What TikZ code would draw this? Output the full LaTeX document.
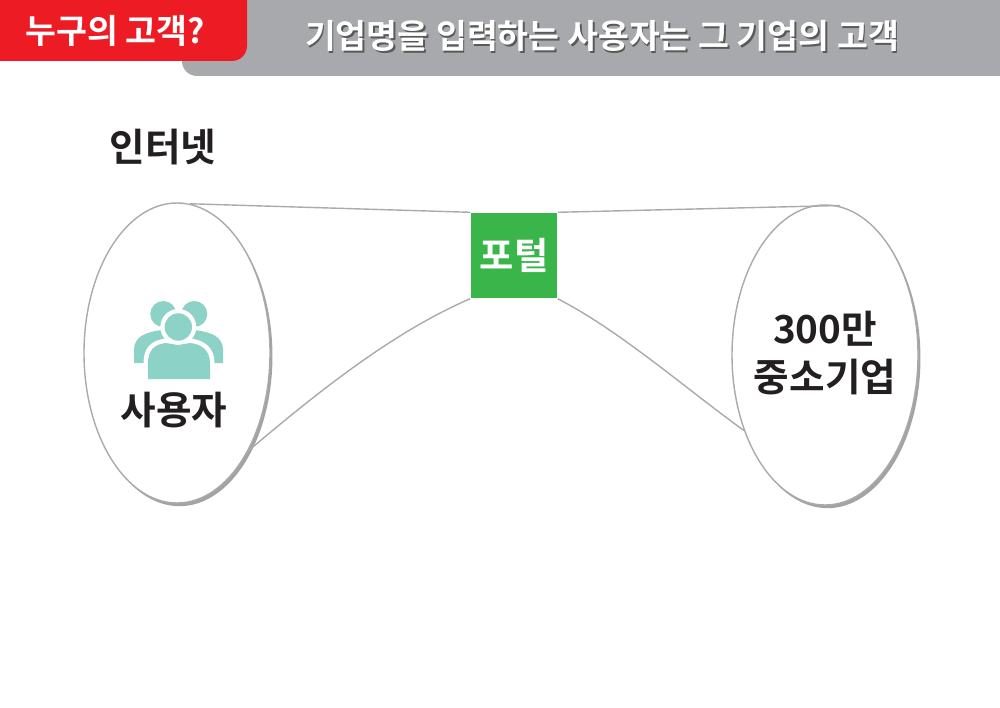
\documentclass[tikz,border=0pt]{standalone}
\usepackage{fontspec}
\usepackage{xcolor}
\usetikzlibrary{shadows,shapes.geometric}
\setmainfont{Noto Sans CJK KR}[BoldFont={Noto Sans CJK KR Bold}]

\definecolor{headred}{RGB}{237,28,36}
\definecolor{headgray}{RGB}{167,169,172}
\definecolor{linegray}{RGB}{170,170,170}
\definecolor{portalgreen}{RGB}{57,181,74}
\definecolor{iconteal}{RGB}{140,210,198}
\definecolor{inkblack}{RGB}{35,31,32}

\tikzset{
  bigtext/.style={font=\bfseries\fontsize{11}{13.4}\selectfont, text=inkblack, align=center, inner sep=0pt},
  headtext/.style={font=\bfseries\fontsize{9.55}{11}\selectfont, text=white, inner sep=0pt},
  cloud/.style={draw=linegray, line width=0.4pt, fill=white, ellipse, minimum width=1.86cm, minimum height=3cm, inner sep=0pt,
    drop shadow={shadow xshift=0.7pt, shadow yshift=-0.9pt, fill=black!45, opacity=0.8}},
  link/.style={draw=linegray, line width=0.4pt}
}

\begin{document}
\begin{tikzpicture}

\useasboundingbox (0,0) rectangle (10,7.07);

\fill [headgray] (1.82,7.07) -- (1.82,6.46) arc (180:270:0.15) -- (10,6.31) -- (10,7.07) -- cycle;
\fill [headred] (0,7.07) -- (0,6.46) -- (2.32,6.46) arc (270:360:0.15) -- (2.47,7.07) -- cycle;

\node [headtext] (whose) at (1.15,6.76) {누구의 고객?};
\node [headtext, text=black!65, xshift=0.5pt, yshift=-0.5pt] (titleshadow) at (6.02,6.71) {기업명을 입력하는 사용자는 그 기업의 고객};
\node [headtext] (title) at (6.02,6.71) {기업명을 입력하는 사용자는 그 기업의 고객};

\node [bigtext] (internet) at (1.63,5.6) {인터넷};

\node [cloud] (userell) at (1.77,3.54) {};
\node [cloud] (firmell) at (8.25,3.52) {};

\node [fill=portalgreen, minimum width=0.86cm, minimum height=0.85cm, inner sep=0pt] (portal) at (5.14,4.515) {};
\node [bigtext, text=white, font=\bfseries\fontsize{10.6}{13}\selectfont] (portaltext) at (portal.center) {포털};

\coordinate (firmtop) at (8.4,5.015);

\draw [link] (userell.85) -- (portal.north west);
\draw [link] (portal.north east) -- (firmtop);
\draw [link] (portal.south west) .. controls (3.95,3.76) and (3.2,3.17) .. (userell.-54);
\draw [link] (portal.south east) .. controls (6.2,3.76) and (6.8,3.23) .. (firmell.223);

% icon
\fill [iconteal] (1.34,3.44) -- (1.34,3.57) .. controls (1.34,3.7) and (1.45,3.75) .. (1.62,3.77) -- (1.94,3.77) .. controls (2.12,3.75) and (2.23,3.7) .. (2.23,3.57) -- (2.23,3.44) -- cycle;
\fill [iconteal] (1.633,3.93) circle (0.13);
\fill [iconteal] (1.943,3.93) circle (0.13);
\fill [white] (1.435,3.28) -- (1.435,3.44) .. controls (1.435,3.59) and (1.51,3.67) .. (1.66,3.685) -- (1.78,3.665) -- (1.9,3.685) .. controls (2.05,3.67) and (2.145,3.59) .. (2.145,3.44) -- (2.145,3.28) -- cycle;
\fill [white] (1.783,3.80) circle (0.18);
\fill [iconteal] (1.48,3.28) -- (1.48,3.44) .. controls (1.48,3.56) and (1.54,3.63) .. (1.66,3.64) -- (1.78,3.62) -- (1.9,3.64) .. controls (2.02,3.63) and (2.10,3.56) .. (2.10,3.44) -- (2.10,3.28) -- cycle;
\fill [iconteal] (1.783,3.80) circle (0.137);

\node [bigtext] (usertext) at (1.74,2.97) {사용자};
\node [bigtext] (firmtext) at (8.25,3.54) {300만\\중소기업};

\end{tikzpicture}
\end{document}
